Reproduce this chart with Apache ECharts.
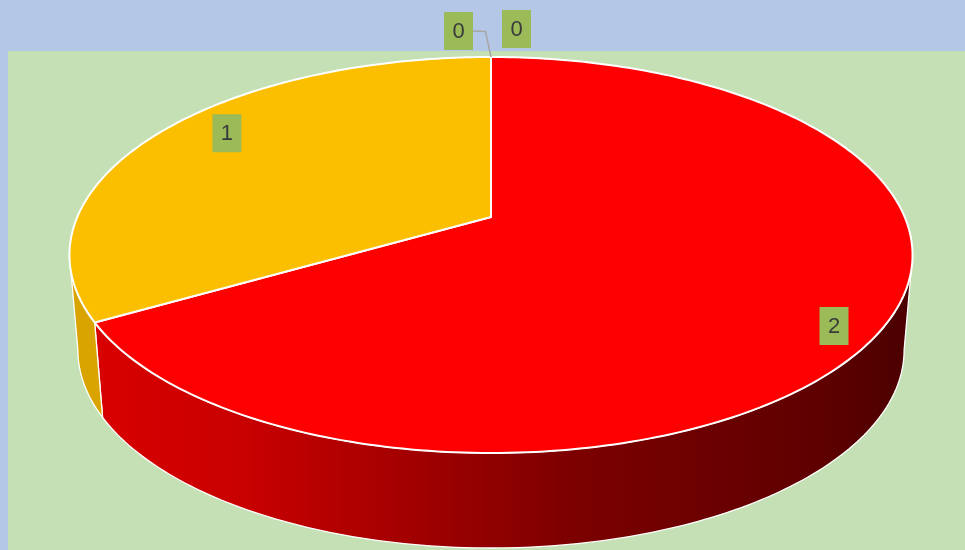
<!DOCTYPE html>
<html>
<head>
<meta charset="utf-8">
<style>
  html, body { margin: 0; padding: 0; background: #B4C7E7; }
  #chart { width: 965px; height: 550px; }
</style>
<script src="https://cdn.jsdelivr.net/npm/echarts@6/dist/echarts.min.js"></script>
</head>
<body>
<div id="chart"></div>
<script>
// Slice data
const categories = ['Item 1', 'Item 2', 'Item 3', 'Item 4'];
const values = [0, 0, 2, 1];
const topColors = ['#4472C4', '#ED7D31', '#FF0000', '#FCBF00'];

// Pie geometry (tilted disc with perspective)
const CX = 491, CY = 217;      // projected centre of the top face
const RX = 413.7, RY = 190.7;  // radii before perspective scaling
const K = 0.192;               // perspective strength
const DEPTH = 95;              // thickness of the pie
const BOTTOM_SHRINK = 0.98;    // bottom rim is slightly narrower

const total = values.reduce((a, b) => a + b, 0);
const slices = [];
let acc = 0;
let zeroCount = 0;
values.forEach((v, i) => {
  const a0 = acc / total * 360;
  acc += v;
  const a1 = acc / total * 360;
  slices.push([a0, a1, v, i, v === 0 ? zeroCount++ : -1]);
});

function project(deg, r, bottom) {
  const t = deg * Math.PI / 180;
  const X = r * Math.sin(t);
  const Y = -r * Math.cos(t);
  const s = 1 / (1 - K * Y);
  let x = CX + RX * X * s;
  let y = CY + RY * Y * s;
  if (bottom) {
    x = CX + (x - CX) * BOTTOM_SHRINK;
    y += DEPTH;
  }
  return [x, y];
}

// angular range of the rim that faces the viewer
const FRONT_R = Math.acos(-K) * 180 / Math.PI;
const FRONT_L = 360 - FRONT_R;

function arcPoints(a0, a1, bottom) {
  const pts = [];
  const n = Math.max(2, Math.ceil(Math.abs(a1 - a0)));
  for (let j = 0; j <= n; j++) {
    pts.push(project(a0 + (a1 - a0) * j / n, 1, bottom));
  }
  return pts;
}

const redSide = new echarts.graphic.LinearGradient(80, 0, 905, 0, [
  { offset: 0, color: '#DA0000' },
  { offset: 0.2, color: '#C80000' },
  { offset: 0.45, color: '#990000' },
  { offset: 0.6, color: '#7C0000' },
  { offset: 0.9, color: '#5E0000' },
  { offset: 1, color: '#4C0000' }
], true);
const sideFills = ['#3A5A94', '#B85C22', redSide, '#D9A400'];

function renderSide(params, api) {
  const a0 = Math.max(api.value(0), FRONT_R);
  const a1 = Math.min(api.value(1), FRONT_L);
  if (api.value(2) === 0 || a1 <= a0) return null;
  const top = arcPoints(a0, a1, false);
  const bot = arcPoints(a0, a1, true).reverse();
  return {
    type: 'polygon',
    shape: { points: top.concat(bot) },
    style: { fill: sideFills[api.value(3)], stroke: '#FFFFFF', lineWidth: 1.3, lineJoin: 'round' }
  };
}

function renderTop(params, api) {
  const a0 = api.value(0), a1 = api.value(1);
  if (api.value(2) === 0) return null;
  const pts = [[CX, CY]].concat(arcPoints(a0, a1, false));
  return {
    type: 'polygon',
    shape: { points: pts },
    style: { fill: topColors[api.value(3)], stroke: '#FFFFFF', lineWidth: 2, lineJoin: 'round' }
  };
}

const BOX_W = 29, BOX_H = 38;
function labelBox(cx, cy, text) {
  return [
    { type: 'rect', shape: { x: cx - BOX_W / 2, y: cy - BOX_H / 2, width: BOX_W, height: BOX_H },
      style: { fill: '#9BBB59' } },
    { type: 'text', style: { text: text, x: cx, y: cy + 1, align: 'center', verticalAlign: 'middle',
      fill: '#3A3A3A', font: '22px "Liberation Sans", Arial, sans-serif' } }
  ];
}

function renderLabel(params, api) {
  const a0 = api.value(0), a1 = api.value(1), v = api.value(2);
  const children = [];
  if (v > 0) {
    const mid = (a0 + a1) / 2 * Math.PI / 180;
    const g = 1 - 0.26 * Math.cos(mid);
    const x = CX + 350.5 * g * Math.sin(mid);
    const y = CY - 192.8 * g * Math.cos(mid);
    children.push(...labelBox(x, y, String(v)));
  } else {
    // zero slices sit at the rim; their labels are stacked above it
    const p = project(a0, 1, false);
    const zi = api.value(4);
    if (zi === 0) {
      children.push(...labelBox(p[0] + 25.5, p[1] - 28, String(v)));
    } else {
      const bx = p[0] - 32.5, by = p[1] - 26;
      children.push({
        type: 'polyline',
        shape: { points: [[bx + BOX_W / 2, by], [p[0] - 5.5, by + 0.5], [p[0], p[1]]] },
        style: { stroke: '#A6A6A6', lineWidth: 1.5, fill: null }
      });
      children.push(...labelBox(bx - (zi - 1) * 36, by, String(v)));
    }
  }
  return { type: 'group', children: children };
}

const chart = echarts.init(document.getElementById('chart'), null, { renderer: 'canvas' });
chart.setOption({
  backgroundColor: '#B4C7E7',
  animation: false,
  graphic: [{
    type: 'rect', z: -10, silent: true,
    shape: { x: 8, y: 51, width: 957, height: 499 },
    style: { fill: '#C5E0B4' }
  }],
  series: [
    { type: 'custom', name: 'side', coordinateSystem: 'none', z: 1, silent: true,
      renderItem: renderSide, data: slices },
    { type: 'custom', name: 'top', coordinateSystem: 'none', z: 2, silent: true,
      renderItem: renderTop, data: slices },
    { type: 'custom', name: 'labels', coordinateSystem: 'none', z: 3, silent: true,
      renderItem: renderLabel, data: slices }
  ]
});
</script>
</body>
</html>
